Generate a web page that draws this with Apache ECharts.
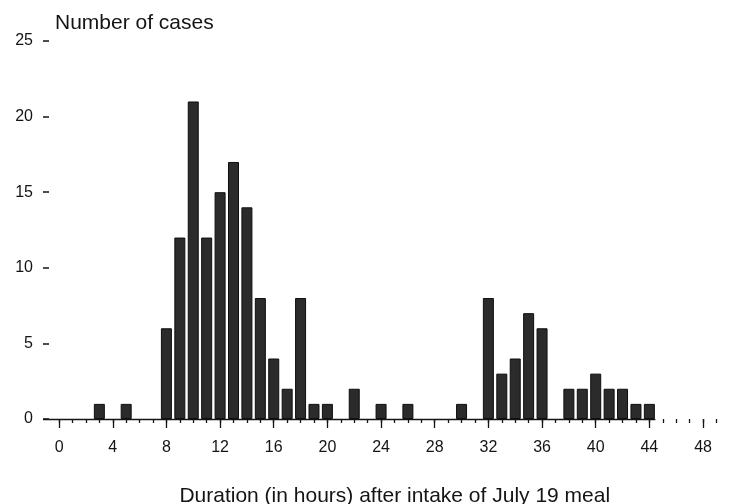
<!DOCTYPE html>
<html>
<head>
<meta charset="utf-8">
<script src="https://cdn.jsdelivr.net/npm/echarts@6/dist/echarts.min.js"></script>
<style>
  html, body { margin: 0; padding: 0; background: #fff; }
  #chart { width: 732px; height: 504px; }
</style>
</head>
<body>
<div id="chart"></div>
<script>
// Hours after the meal (one bar per hour) and number of cases in each hour
const hours = [0,1,2,3,4,5,6,7,8,9,10,11,12,13,14,15,16,17,18,19,20,21,22,
               23,24,25,26,27,28,29,30,31,32,33,34,35,36,37,38,39,40,41,42,43,44];
const cases = [0,0,0,1,0,1,0,0,6,12,21,12,15,17,14,8,4,2,8,1,1,0,2,
               0,1,0,1,0,0,0,1,0,8,3,4,7,6,0,2,2,3,2,2,1,1];

// Axis ticks: a small tick every hour, a long labelled tick every 4 hours
const minorTicks = [0,1,2,3,4,5,6,7,8,9,10,11,12,13,14,15,16,17,18,19,20,21,22,23,24,
                    25,26,27,28,29,30,31,32,33,34,35,36,37,38,39,40,41,42,43,44,45,46,47,48,49];
const majorTicks = [0,4,8,12,16,20,24,28,32,36,40,44,48];
const yTicks = [0,5,10,15,20,25];

const xMin = -1.2, xMax = 49.6;
const ink = '#141414';
const font = 'Liberation Sans, Arial, sans-serif';

const chart = echarts.init(document.getElementById('chart'));

const baseAxis = {
  type: 'value', min: xMin, max: xMax,
  axisLine: { show: false, onZero: false },
  splitLine: { show: false }
};

chart.setOption({
  animation: false,
  backgroundColor: '#fff',
  title: {
    text: 'Number of cases',
    left: 50, top: 8,
    textStyle: { fontFamily: font, fontSize: 21, fontWeight: 'normal', color: ink }
  },
  grid: { left: 43, right: 7.5, top: 41, bottom: 85, outerBoundsMode: 'none', containLabel: false },
  xAxis: [
    Object.assign({}, baseAxis, {
      axisTick: { show: true, length: 4, customValues: minorTicks,
                  lineStyle: { color: ink, width: 1.3 } },
      axisLabel: { show: false }
    }),
    Object.assign({}, baseAxis, {
      position: 'bottom',
      axisTick: { show: true, length: 9, customValues: majorTicks,
                  lineStyle: { color: ink, width: 1.3 } },
      axisLabel: { show: true, customValues: majorTicks, margin: 21,
                   fontFamily: font, fontSize: 16, color: ink },
      name: 'Duration (in hours) after intake of July 19 meal',
      nameLocation: 'middle', nameGap: 67,
      nameTextStyle: { fontFamily: font, fontSize: 21, color: ink, padding: [0, 0, 0, 22] }
    })
  ],
  yAxis: {
    type: 'value', min: 0, max: 25,
    axisLine: { show: false, onZero: false },
    splitLine: { show: false },
    axisTick: { show: true, inside: true, length: 6, customValues: yTicks,
                lineStyle: { color: ink, width: 1.5 } },
    axisLabel: { customValues: yTicks, margin: 10, fontFamily: font, fontSize: 16, color: ink }
  },
  series: [{
    type: 'bar',
    xAxisIndex: 0,
    barWidth: 11,
    data: hours.map((h, i) => [h, cases[i]]).filter(d => d[1] > 0),
    itemStyle: { color: '#2b2b2b', borderColor: '#0e0e0e', borderWidth: 1 },
    markLine: {
      silent: true,
      symbol: 'none',
      label: { show: false },
      lineStyle: { color: ink, width: 1.3, type: 'solid' },
      data: [[{ coord: [xMin, 0] }, { coord: [hours[hours.length - 1] + 0.45, 0] }]]
    }
  }]
});
</script>
</body>
</html>
